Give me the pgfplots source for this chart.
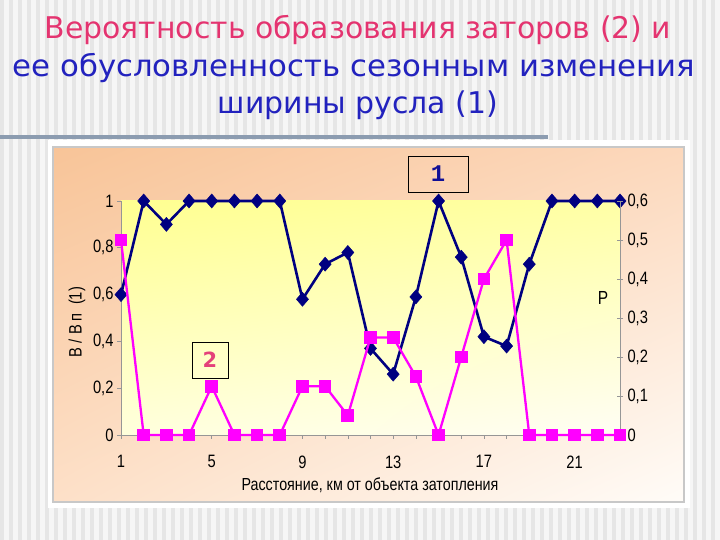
\documentclass[border=0pt]{standalone}
\usepackage{fontspec}
\setmainfont{Liberation Sans}
\newfontfamily\narrowfont[FakeStretch=0.82]{Liberation Sans}
\newfontfamily\titlefont{DejaVu Sans}
\newfontfamily\boxmono{Liberation Mono}
\usepackage{pgfplots}
\pgfplotsset{compat=1.18}
\usetikzlibrary{shadings}

\definecolor{navyline}{RGB}{0,0,128}
\definecolor{pinkline}{RGB}{255,0,255}
\definecolor{titlepink}{RGB}{228,52,112}
\definecolor{titleblue}{RGB}{34,34,190}
\definecolor{axisgray}{RGB}{150,150,150}
\definecolor{stripe}{RGB}{230,230,230}
\definecolor{slidebg}{RGB}{246,246,246}
\definecolor{rulecol}{RGB}{140,156,176}

\begin{document}
\begin{tikzpicture}[x=1bp,y=1bp]
\path[use as bounding box] (0,0) rectangle (720,540);
% slide background with light stripes
\fill[slidebg] (0,0) rectangle (720,540);
\foreach \i in {0,9,...,720} {\fill[stripe] (\i,0) rectangle (\i+4,540);}
\fill[rulecol] (0,401) rectangle (548,405);
\fill[white] (48,32) rectangle (690,400);
% chart area
\path[upper left={rgb,255:red,248;green,196;blue,152},
      upper right={rgb,255:red,252;green,216;blue,188},
      lower left={rgb,255:red,253;green,224;blue,200},
      lower right={rgb,255:red,255;green,252;blue,248}]
  (53,38) rectangle (684,393);
\draw[line width=1.2bp, draw={rgb,255:red,200;green,200;blue,200}] (53,38) rectangle (684,393);

% title
\node[font=\titlefont\fontsize{30}{30}\selectfont, text=titlepink] at (358,510) {Вероятность образования заторов (2) и};
\node[font=\titlefont\fontsize{30}{30}\selectfont, text=titleblue, xscale=1.03] at (354,472) {ее обусловленность сезонным изменения};
\node[font=\titlefont\fontsize{30}{30}\selectfont, text=titleblue] at (358,435) {ширины русла (1)};

\pgfplotsset{
  common/.style={
    at={(121bp,105bp)}, anchor=south west,
    scale only axis, width=499bp, height=234bp,
    xmin=1, xmax=23, ymin=0,
    tick style={draw=axisgray, line width=0.6bp},
    axis line style={draw=axisgray, line width=0.8bp},
    /pgf/number format/assume math mode=true,
    /pgf/number format/use comma,
    /pgf/number format/fixed,
    /pgf/number format/precision=1,
    ticklabel style={font=\narrowfont\fontsize{18}{18}\selectfont},
    clip=false,
  }
}

\begin{axis}[common,
  ymax=1,
  axis x line*=bottom, axis y line*=left,
  tick align=outside, major tick length=4bp,
  xtick={1,...,23},
  xticklabels={1,,,,5,,,,9,,,,13,,,,17,,,,21,,},
  xticklabel style={yshift=-13bp},
  ytick={0,0.2,0.4,0.6,0.8,1},
  axis background/.style={
    upper left={rgb,255:red,255;green,255;blue,145},
    upper right={rgb,255:red,255;green,255;blue,165},
    lower left={rgb,255:red,255;green,255;blue,220},
    lower right={rgb,255:red,255;green,254;blue,244}},
]
\addplot[navyline, line width=2.6bp, mark=diamond*, mark size=7bp,
  mark options={solid, fill=navyline, draw=navyline, line width=0.5bp, xscale=1.15}]
  coordinates {
  (1,0.60) (2,1.00) (3,0.90) (4,1.00) (5,1.00) (6,1.00) (7,1.00) (8,1.00)
  (9,0.58) (10,0.73) (11,0.78) (12,0.37) (13,0.26) (14,0.59) (15,1.00)
  (16,0.76) (17,0.42) (18,0.38) (19,0.73) (20,1.00) (21,1.00) (22,1.00) (23,1.00)
  };
\end{axis}

\begin{axis}[common,
  ymax=0.6,
  axis x line=none, axis y line*=right,
  tick align=center, major tick length=6bp,
  ytick={0,0.1,0.2,0.3,0.4,0.5,0.6},
  yticklabel style={xshift=1bp},
]
\addplot[pinkline, line width=2.3bp, mark=square*, mark size=5.2bp,
  mark options={solid, fill=pinkline, draw=pinkline}]
  coordinates {
  (1,0.50) (2,0) (3,0) (4,0) (5,0.125) (6,0) (7,0) (8,0)
  (9,0.125) (10,0.125) (11,0.05) (12,0.25) (13,0.25) (14,0.15) (15,0)
  (16,0.20) (17,0.40) (18,0.50) (19,0) (20,0) (21,0) (22,0) (23,0)
  };
\end{axis}

% axis titles
\node[font=\narrowfont\fontsize{17.5}{17.5}\selectfont] at (370,55) {Расстояние, км от объекта затопления};
\node[font=\narrowfont\fontsize{18}{18}\selectfont, rotate=90] at (77,218) {B / B п\ \ (1)};
\node[font=\narrowfont\fontsize{19}{19}\selectfont] at (603,242) {P};

% series labels
\node[draw=black, line width=0.8bp, minimum width=60bp, minimum height=36bp,
  font=\boxmono\bfseries\fontsize{24}{24}\selectfont, text={rgb,255:red,16;green,16;blue,150}]
  at (438,366) {1};
\node[draw=black, line width=0.8bp, minimum width=36bp, minimum height=36bp, inner sep=0pt,
  font=\titlefont\bfseries\fontsize{21}{21}\selectfont, text={rgb,255:red,228;green,64;blue,122}]
  at (210,180) {2};
\end{tikzpicture}
\end{document}
